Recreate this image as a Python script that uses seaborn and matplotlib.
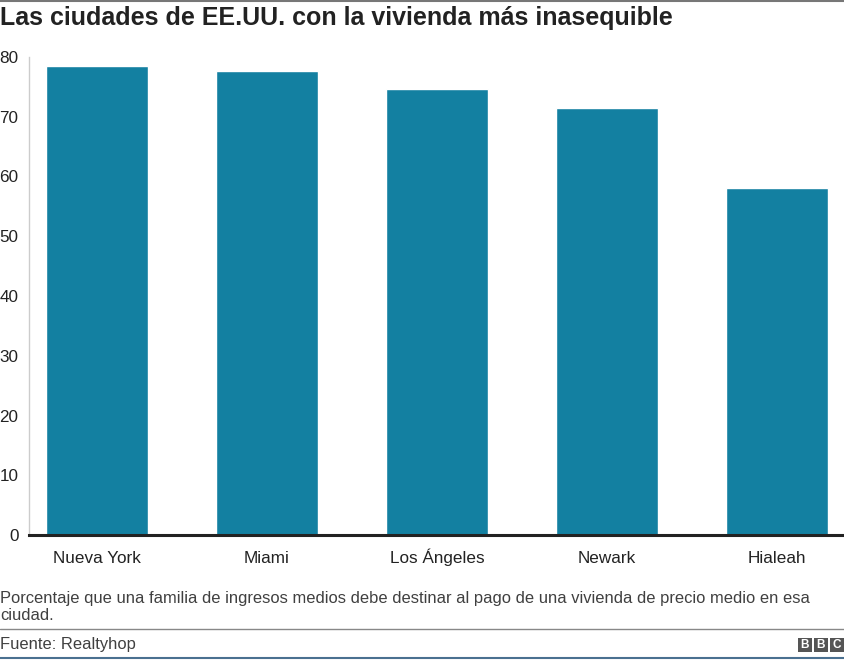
import matplotlib
matplotlib.use("Agg")
import matplotlib.pyplot as plt
import seaborn as sns
import pandas as pd
from matplotlib.patches import Rectangle

cities = ["Nueva York", "Miami", "Los Ángeles", "Newark", "Hialeah"]
values = [78.5, 77.6, 74.6, 71.5, 58.0]
yticks = [0, 10, 20, 30, 40, 50, 60, 70, 80]

title = "Las ciudades de EE.UU. con la vivienda más inasequible"
note = ("Porcentaje que una familia de ingresos medios debe destinar al pago de una vivienda de precio medio en esa\n"
        "ciudad.")
source = "Fuente: Realtyhop"

sns.set_theme(style="white")
plt.rcParams['font.family'] = ['Liberation Sans', 'DejaVu Sans']

W, H = 845, 660
fig = plt.figure(figsize=(W / 100, H / 100), dpi=100)
ax = fig.add_axes([29 / W, (H - 535) / H, (W - 29) / W, (535 - 57) / H])

df = pd.DataFrame({"city": cities, "value": values})
sns.barplot(data=df, x="city", y="value", color="#1380A1", saturation=1, width=0.6, ax=ax)

ax.set_xlim(-0.4, 4.4)
ax.set_ylim(0, 80)
ax.set_yticks(yticks)
ax.set_xlabel("")
ax.set_ylabel("")
for s in ["top", "right"]:
    ax.spines[s].set_visible(False)
ax.spines["left"].set_color("#cccccc")
ax.spines["left"].set_linewidth(1)
ax.spines["bottom"].set_color("#222222")
ax.spines["bottom"].set_linewidth(2.2)
ax.tick_params(axis="both", length=0, labelsize=12.3, colors="#222222")
ax.tick_params(axis="y", pad=7.5)
ax.tick_params(axis="x", pad=20)
for lab in ax.get_xticklabels():
    lab.set_verticalalignment("baseline")

fig.text(0, 1 - 18 / H, title, fontsize=18, fontweight="bold", color="#222222", va="center", ha="left")
fig.text(0, 1 - 607 / H, note, fontsize=11.9, color="#404040", va="center", ha="left", linespacing=1.25)
fig.text(0, 1 - 644 / H, source, fontsize=11.9, color="#404040", va="center", ha="left")

# lines
fig.add_artist(plt.Line2D([0, 1], [1 - 1 / H, 1 - 1 / H], color="#777777", lw=1.5, transform=fig.transFigure))
fig.add_artist(plt.Line2D([0, 1], [1 - 629 / H, 1 - 629 / H], color="#888888", lw=1, transform=fig.transFigure))
fig.add_artist(plt.Line2D([0, 1], [1 - 658 / H, 1 - 658 / H], color="#4a7090", lw=1.5, transform=fig.transFigure))

# BBC logo
for i, ch in enumerate("BBC"):
    x0 = 798 + i * 16
    fig.add_artist(Rectangle((x0 / W, 1 - 652 / H), 14 / W, 14 / H, facecolor="#555555", edgecolor="none",
                             transform=fig.transFigure))
    fig.text((x0 + 7) / W, 1 - 645 / H, ch, fontsize=8.5, fontweight="bold", color="white", ha="center", va="center")

fig.savefig("out.png", dpi=100)
